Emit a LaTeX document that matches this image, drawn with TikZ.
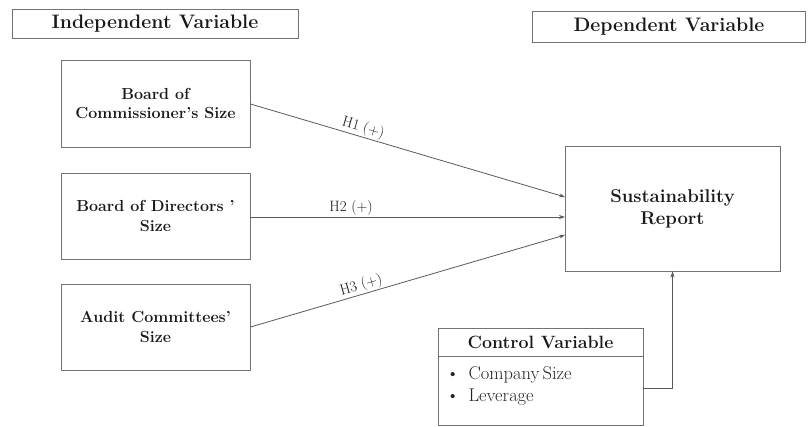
\documentclass[tikz,border=0pt]{standalone}
\usetikzlibrary{arrows.meta,calc}
\begin{document}
\begin{tikzpicture}[x=1pt,y=-1pt,
  box/.style={draw=black!55,line width=0.9pt,inner sep=0pt,align=center,text=black!90},
  bigtxt/.style={font=\fontsize{19.5}{22}\selectfont\bfseries},
  midtxt/.style={font=\fontsize{16}{19.5}\selectfont\bfseries},
  conn/.style={draw=black!65,line width=0.8pt,-{Stealth[length=6pt,width=4pt]}},
  lbl/.style={font=\fontsize{15}{17}\selectfont,sloped,above,inner sep=1pt,text=black!90}]
\useasboundingbox (0,0) rectangle (808,426);
% headers
\node[box,bigtxt,minimum width=286pt,minimum height=29pt] (indep) at (155,23.5) {Independent Variable};
\node[box,bigtxt,minimum width=273pt,minimum height=31pt] (dep) at (669,26.5) {Dependent Variable};
% independent variables
\node[box,midtxt,minimum width=189pt,minimum height=87pt] (bc) at (155.5,103.5) {Board of\\Commissioner's Size};
\node[box,midtxt,minimum width=189pt,minimum height=86pt] (bd) at (155.5,216) {Board of Directors '\\Size};
\node[box,midtxt,minimum width=189pt,minimum height=86pt] (ac) at (155.5,327) {Audit Committees'\\Size};
% dependent
\node[box,font=\fontsize{18.5}{22}\selectfont\bfseries,minimum width=215pt,minimum height=125pt] (sr) at (672.5,208.5) {Sustainability\\Report};
% control
\node[box,minimum width=205pt,minimum height=97pt] (cv) at (540.5,376.5) {};
\node[font=\fontsize{17.8}{20}\selectfont\bfseries,text=black!90] (cvh) at (540.5,342) {Control Variable};
\draw[draw=black!55,line width=0.9pt] (cv.west |- 0,356) -- (cv.east |- 0,356);
\node[anchor=north west,align=left,inner sep=0pt,font=\fontsize{18.5}{22}\selectfont,text=black!85] (cvl) at (446,366)
  {\textbullet\hspace{9pt}Company\,Size\\\textbullet\hspace{9pt}Leverage};
% arrow targets
\coordinate (t1) at (565,197);
\coordinate (t2) at (565,217);
\coordinate (t3) at (565,235);
\draw[conn] (bc.east |- 0,104) -- node[lbl,pos=0.35] {H1 (+)} (t1);
\draw[conn] (bd.east |- 0,217) -- node[lbl,pos=0.32] {H2 (+)} (t2);
\draw[conn] (ac.east |- 0,327) -- node[lbl,pos=0.36] {H3 (+)} (t3);
\draw[conn] (cv.east |- 0,388) -| (sr.south);
\end{tikzpicture}
\end{document}
